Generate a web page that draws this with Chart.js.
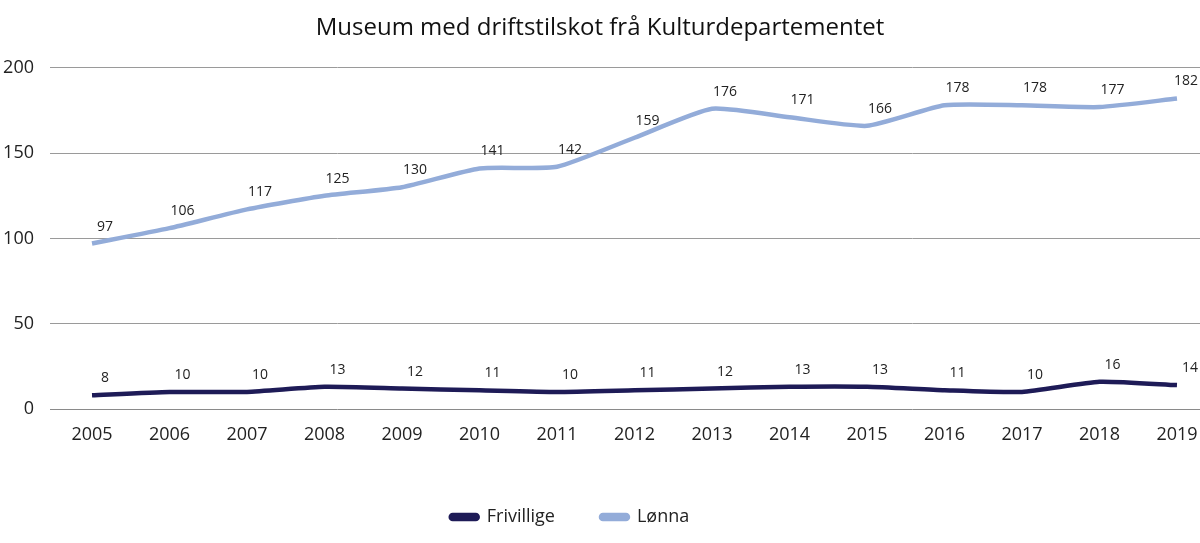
<!DOCTYPE html>
<html>
<head>
<meta charset="utf-8">
<script src="https://cdn.jsdelivr.net/npm/chart.js@4/dist/chart.umd.min.js"></script>
<style>
  html, body { margin: 0; padding: 0; background: #fff; }
  #wrap { width: 1200px; height: 543px; }
</style>
</head>
<body>
<div id="wrap"><canvas id="mycanvas"></canvas></div>
<script>
const years = [2005, 2006, 2007, 2008, 2009, 2010, 2011, 2012, 2013, 2014, 2015, 2016, 2017, 2018, 2019];
const frivillige = [8, 10, 10, 13, 12, 11, 10, 11, 12, 13, 13, 11, 10, 16, 14];
const lonna = [97, 106, 117, 125, 130, 141, 142, 159, 176, 171, 166, 178, 178, 177, 182];
const yTicks = [0, 50, 100, 150, 200];

const FONT = "'Open Sans', 'Noto Sans', sans-serif";

// value labels above each point
const pointLabels = {
    id: 'pointLabels',
    afterDatasetsDraw(chart) {
        const ctx = chart.ctx;
        ctx.save();
        ctx.font = '14px ' + FONT;
        ctx.fillStyle = '#222';
        ctx.textAlign = 'center';
        ctx.textBaseline = 'middle';
        chart.data.datasets.forEach((ds, i) => {
            chart.getDatasetMeta(i).data.forEach((pt, j) => {
                const txt = String(ds.data[j].y);
                const half = ctx.measureText(txt).width / 2;
                const x = Math.min(pt.x + 13, chart.width - half - 2);
                ctx.fillText(txt, x, pt.y - 17);
            });
        });
        ctx.restore();
    }
};

// legend in the original sits a bit left of centre
const legendShift = {
    id: 'legendShift',
    afterLayout(chart) {
        if (chart.legend) {
            chart.legend.left -= 30;
            chart.legend.right -= 30;
        }
    }
};

const toPoints = arr => arr.map((v, i) => ({ x: years[i], y: v }));

new Chart(document.getElementById('mycanvas'), {
    type: 'line',
    data: {
        datasets: [
            {
                label: 'Frivillige',
                data: toPoints(frivillige),
                borderColor: '#1e1b57',
                backgroundColor: '#1e1b57',
                borderWidth: 4.5,
                pointRadius: 0,
                tension: 0.18
            },
            {
                label: 'Lønna',
                data: toPoints(lonna),
                borderColor: '#93acd9',
                backgroundColor: '#93acd9',
                borderWidth: 4.5,
                pointRadius: 0,
                tension: 0.18
            }
        ]
    },
    options: {
        responsive: true,
        maintainAspectRatio: false,
        animation: false,
        layout: { padding: { top: 0, right: 0, bottom: 7, left: 0 } },
        plugins: {
            title: {
                display: true,
                text: 'Museum med driftstilskot frå Kulturdepartementet',
                color: '#111',
                font: { family: FONT, size: 24, weight: 'normal' },
                padding: { top: 14, bottom: 25 }
            },
            legend: {
                position: 'bottom',
                labels: {
                    color: '#222',
                    font: { family: FONT, size: 18 },
                    boxWidth: 27,
                    boxHeight: 4,
                    padding: 46,
                    useBorderRadius: true,
                    borderRadius: 2
                }
            },
            tooltip: { enabled: false }
        },
        scales: {
            x: {
                type: 'linear',
                min: 2004.458,
                max: 2019.297,
                afterBuildTicks: axis => {
                    axis.ticks = years.map(y => ({ value: y }));
                },
                afterFit: axis => {
                    axis.height = 53;
                    axis.paddingLeft = 0;
                    axis.paddingRight = 0;
                },
                grid: { display: false, drawTicks: false },
                border: { display: false },
                ticks: {
                    color: '#222',
                    font: { family: FONT, size: 18 },
                    padding: 15,
                    maxRotation: 0,
                    autoSkip: false,
                    callback: v => String(v)
                }
            },
            y: {
                min: 0,
                max: 200,
                afterBuildTicks: axis => {
                    axis.ticks = yTicks.map(v => ({ value: v }));
                },
                afterFit: axis => { axis.width = 50; },
                grid: {
                    color: ctx => ctx.tick && ctx.tick.value === 0 ? '#8a8a8a' : '#9a9a9a',
                    lineWidth: 1,
                    drawTicks: false
                },
                border: { display: false },
                ticks: {
                    color: '#222',
                    font: { family: FONT, size: 18 },
                    padding: 16
                }
            }
        }
    },
    plugins: [pointLabels, legendShift]
});
</script>
</body>
</html>
